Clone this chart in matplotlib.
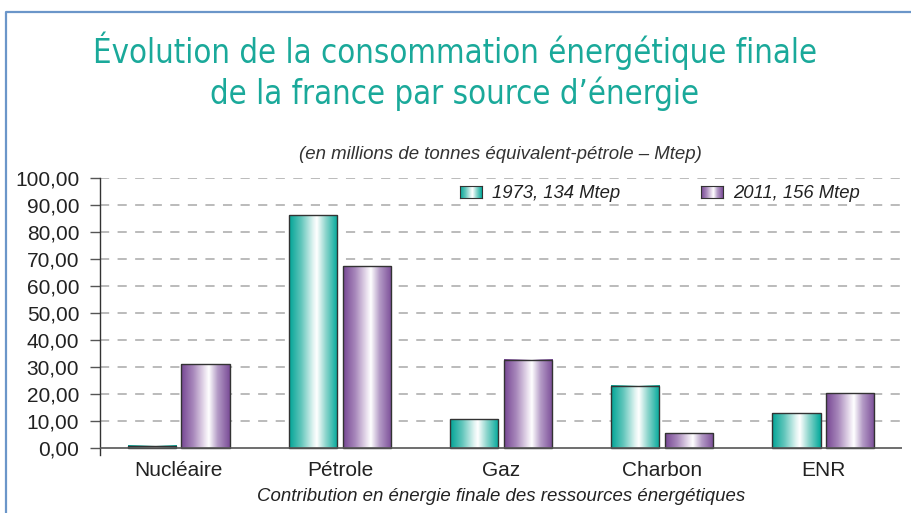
import numpy as np
import matplotlib.pyplot as plt
from matplotlib.colors import LinearSegmentedColormap
from matplotlib.lines import Line2D

plt.rcParams['font.family'] = ['Liberation Sans', 'DejaVu Sans']

# données (Mtep)
categories = ['Nucléaire', 'Pétrole', 'Gaz', 'Charbon', 'ENR']
conso_1973 = [0.9, 86.3, 10.7, 23.0, 12.8]
conso_2011 = [31.0, 67.4, 32.6, 5.4, 20.3]
series_labels = ['1973, 134 Mtep', '2011, 156 Mtep']
yticks = np.arange(0, 101, 10)

# dégradés "cylindre"
teal = LinearSegmentedColormap.from_list('teal', [
    (0.0, '#00a496'), (0.25, '#62c6bb'), (0.5, '#e4f5f3'), (0.57, '#ffffff'),
    (0.75, '#8fd6cd'), (1.0, '#00a89a')])
violet = LinearSegmentedColormap.from_list('violet', [
    (0.0, '#764693'), (0.25, '#a888bb'), (0.5, '#eee6f2'), (0.57, '#ffffff'),
    (0.75, '#b49bc6'), (1.0, '#7a4c97')])
grad = np.linspace(0, 1, 256).reshape(1, -1)

fig = plt.figure(figsize=(9.12, 5.13), dpi=100)
ax = fig.add_axes([100/912, (513-455)/513, 802/912, 277/513])

x = np.arange(len(categories))
w = 0.30
off = 0.166

for vals, cmap in [(conso_1973, teal), (conso_2011, violet)]:
    pos = x - off if cmap is teal else x + off
    bars = ax.bar(pos, vals, w, facecolor='none', edgecolor='#333333', lw=1.0, zorder=4)
    for b in bars:
        bx, by = b.get_xy()
        ax.imshow(grad, cmap=cmap, aspect='auto', zorder=3,
                  extent=[bx, bx + b.get_width(), by, by + b.get_height()])

ax.set_xlim(-0.49, 4.49)
ax.set_ylim(-2.6, 100)

# grille et axes
for t in yticks[1:]:
    ax.axhline(t, color='#a8a8a8', lw=1.1, ls=(0, (6, 5.5)), zorder=1)
ax.axhline(0, color='#555555', lw=1.2, zorder=5)
for s in ['top', 'right', 'bottom']:
    ax.spines[s].set_visible(False)
ax.spines['left'].set_color('#333333')
ax.spines['left'].set_linewidth(1.0)
ax.set_yticks(yticks)
ax.set_yticklabels(['%d,00' % t for t in yticks])
ax.tick_params(axis='y', length=7, width=1.0, color='#555555', pad=8,
               labelsize=15, labelcolor='#222222')
ax.set_xticks(x)
ax.set_xticklabels(categories)
ax.tick_params(axis='x', length=0, pad=4, labelsize=15, labelcolor='#222222')
ax.set_xlabel('Contribution en énergie finale des ressources énergétiques',
              fontsize=13.4, style='italic', color='#222222', labelpad=6)

# légende
for (px, lbl, cmap) in [(460, series_labels[0], teal), (701, series_labels[1], violet)]:
    lax = fig.add_axes([px/912, (513-198)/513, 22/912, 12/513])
    lax.imshow(grad, cmap=cmap, aspect='auto')
    lax.set_xticks([])
    lax.set_yticks([])
    for s in lax.spines.values():
        s.set_color('#333333')
    fig.text((px + 32)/912, 1 - 193/513, lbl, fontsize=13.3, style='italic',
             color='#222222', va='center', ha='left')

# titres
title_kw = dict(family=['DejaVu Sans'], fontstretch='condensed', fontweight='light',
                fontsize=23.6, color='#1aa99a', ha='center', va='center')
fig.text(455/912, 1 - 51/513, 'Évolution de la consommation énergétique finale', **title_kw)
fig.text(455/912, 1 - 94/513, 'de la france par source d\u2019énergie', **title_kw)
fig.text(500/912, 1 - 155/513, '(en millions de tonnes équivalent-pétrole \u2013 Mtep)',
         fontsize=13.4, style='italic', color='#333333', ha='center', va='center')

# cadre
fig.add_artist(Line2D([6.5/912, 6.5/912, 1.0], [0, 1 - 12/513, 1 - 12/513],
                      transform=fig.transFigure, color='#6b96c9', lw=1.6))

fig.savefig('out.png', dpi=100)
